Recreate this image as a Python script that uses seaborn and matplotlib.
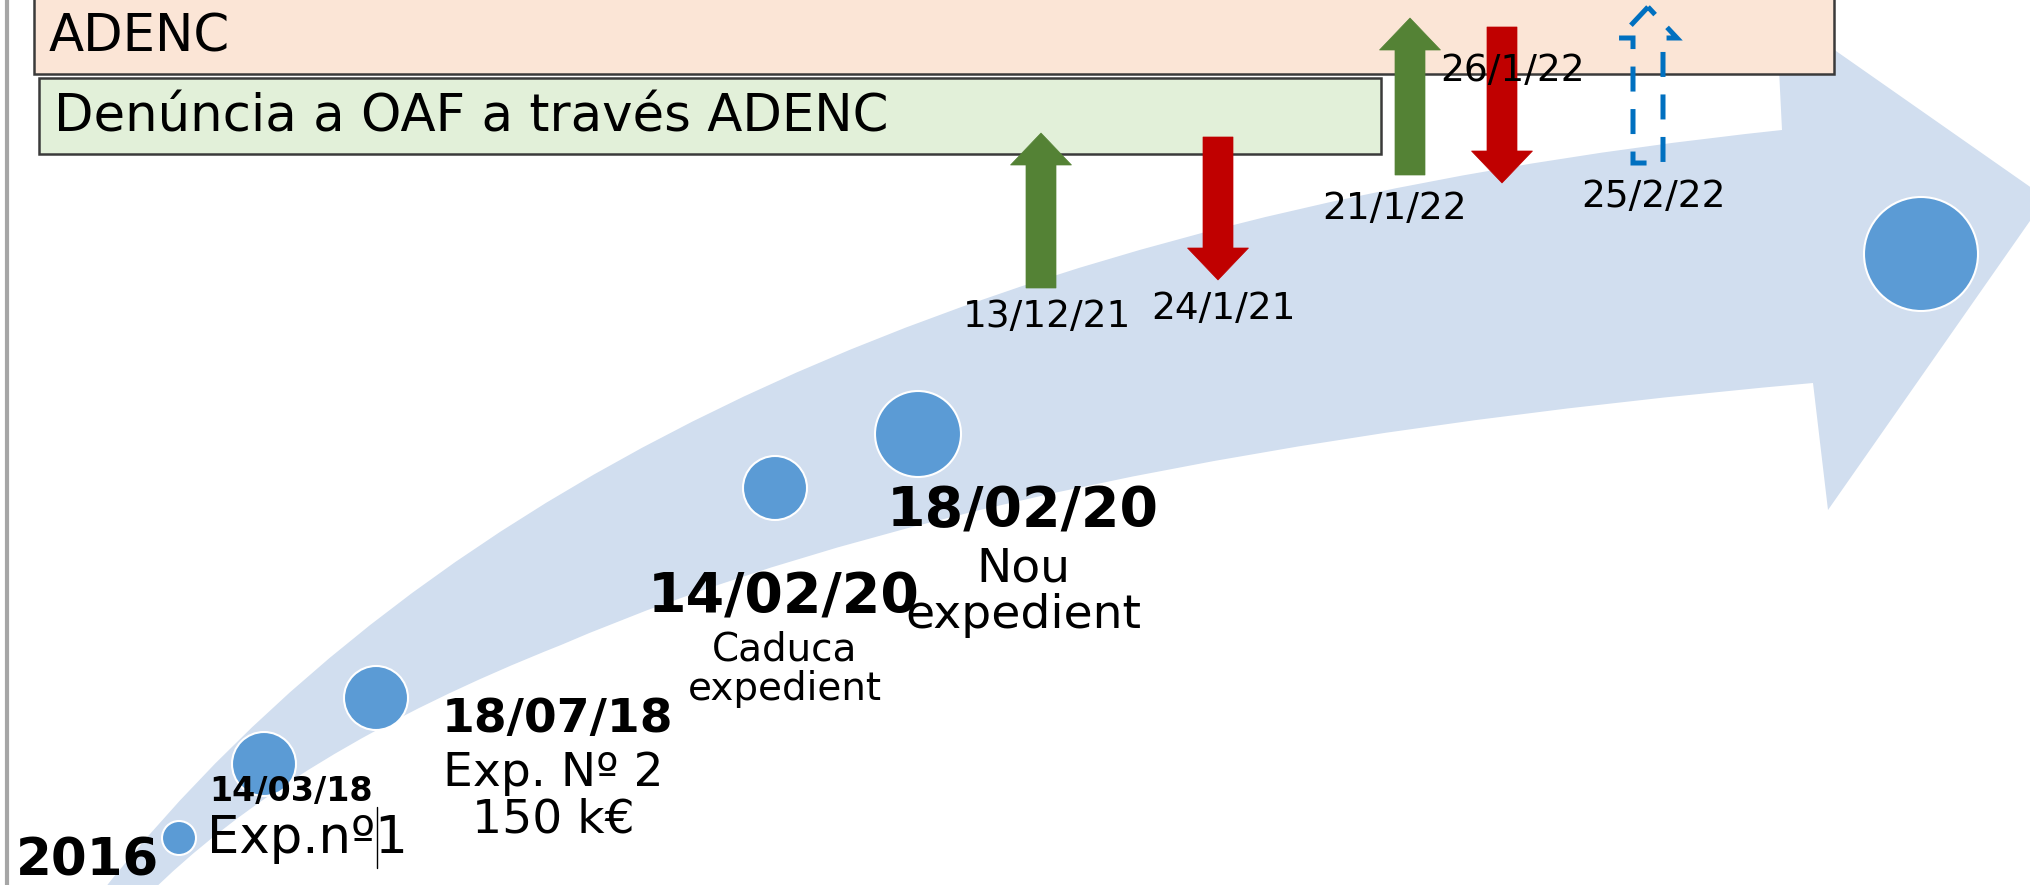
import matplotlib
matplotlib.use("Agg")
import matplotlib.pyplot as plt
import seaborn as sns
import pandas as pd
from matplotlib.path import Path
from matplotlib.patches import PathPatch, Rectangle

# milestones along the curved arrow (pixel space of the slide)
dot_x = [179, 264, 376, 775, 918, 1921]
dot_y = [838, 764, 698, 488, 434, 254]
dot_r = [17, 32, 32, 32, 43, 57]

# bold dates with captions under the dots
date_text = ["2016", "14/03/18", "18/07/18", "14/02/20", "18/02/20"]
date_x = [16, 291, 557, 784, 1023]
date_y = [861, 791, 719, 598, 512]
date_size = [37, 24, 34, 40, 40]
note_text = ["Exp.nº1", "Exp. Nº 2\n150 k€", "Caduca\nexpedient", "Nou\nexpedient"]
note_x = [207, 553, 785, 1023]
note_y = [839, 797, 669, 592]
note_size = [37, 34, 28, 34]

# up / down arrows with their dates
arrow_date = ["13/12/21", "24/1/21", "21/1/22", "26/1/22", "25/2/22"]
arrow_x = [1041, 1218, 1410, 1502, 1648]
arrow_from = [288, 137, 175, 27, 163]
arrow_to = [133, 280, 18, 183, 7]
arrow_kind = ["up", "down", "up", "down", "pending"]
label_x = [1047, 1224, 1395, 1513, 1653]
label_y = [317, 309, 209, 71, 197]

# boxes at the top
box_text = ["ADENC", "Denúncia a OAF a través ADENC"]

W, H = 2031, 885
sns.set_theme(style="white")
plt.rcParams['font.family'] = ['DejaVu Sans']
plt.rcParams['text.color'] = 'black'

fig = plt.figure(figsize=(W / 100, H / 100), dpi=100)
ax = fig.add_axes([0, 0, 1, 1])
ax.set_xlim(0, W)
ax.set_ylim(H, 0)
ax.axis("off")

# curved band with arrow head
verts = [(97, 898), (600, 255), (1782, 130),
         (1776, 9), (2046, 198), (1828, 510), (1813, 383),
         (1000, 455), (561, 645),
         (290, 752), (145, 898), (97, 898)]
codes = [Path.MOVETO, Path.CURVE3, Path.CURVE3,
         Path.LINETO, Path.LINETO, Path.LINETO, Path.LINETO,
         Path.CURVE3, Path.CURVE3,
         Path.CURVE3, Path.CURVE3, Path.CLOSEPOLY]
ax.add_patch(PathPatch(Path(verts, codes), fc="#D1DEEF", ec="none", zorder=1))

# left slide border
ax.plot([7, 7], [0, H], color="#A6A6A6", lw=3, zorder=2)

dots = pd.DataFrame({"x": dot_x, "y": dot_y, "r": dot_r})
sns.scatterplot(data=dots, x="x", y="y", s=[(2 * r * 0.72) ** 2 for r in dot_r],
                color="#5B9BD5", edgecolor="white", linewidth=1.5, ax=ax, zorder=3, legend=False)

# top boxes
ax.add_patch(Rectangle((34, -60), 1800, 134, fc="#FBE5D6", ec="#3A3A3A", lw=1.8, zorder=4))
ax.add_patch(Rectangle((39, 78), 1342, 76, fc="#E2F0D9", ec="#3A3A3A", lw=1.8, zorder=4))
ax.text(49, 38, box_text[0], fontsize=37, ha="left", va="center", zorder=5)
ax.text(54, 117, box_text[1], fontsize=37, ha="left", va="center", zorder=5)

# dates and notes
for i, t in enumerate(date_text):
    ha = "left" if i == 0 else "center"
    ax.text(date_x[i], date_y[i], t, fontsize=date_size[i], fontweight="bold",
            ha=ha, va="center", zorder=6)
for i, t in enumerate(note_text):
    ha = "left" if i == 0 else "center"
    ax.text(note_x[i], note_y[i], t, fontsize=note_size[i], ha=ha, va="center",
            multialignment="center", linespacing=1.05, zorder=6)
ax.plot([377, 377], [807, 868], color="black", lw=1, zorder=6)

colors = {"up": "#548235", "down": "#C00000"}
for i, k in enumerate(arrow_kind):
    dy = arrow_to[i] - arrow_from[i]
    if k == "pending":
        ax.arrow(arrow_x[i], arrow_from[i], 0, dy, width=30, head_width=58, head_length=31,
                 length_includes_head=True, fc="none", ec="#0070C0", lw=3.6,
                 ls=(0, (5, 3.5)), zorder=7)
    else:
        ax.arrow(arrow_x[i], arrow_from[i], 0, dy, width=30, head_width=61, head_length=32,
                 length_includes_head=True, fc=colors[k], ec=colors[k], lw=0.5, zorder=7)
    ax.text(label_x[i], label_y[i], arrow_date[i], fontsize=27, ha="center", va="center", zorder=8)

fig.savefig("out.png", dpi=100)
